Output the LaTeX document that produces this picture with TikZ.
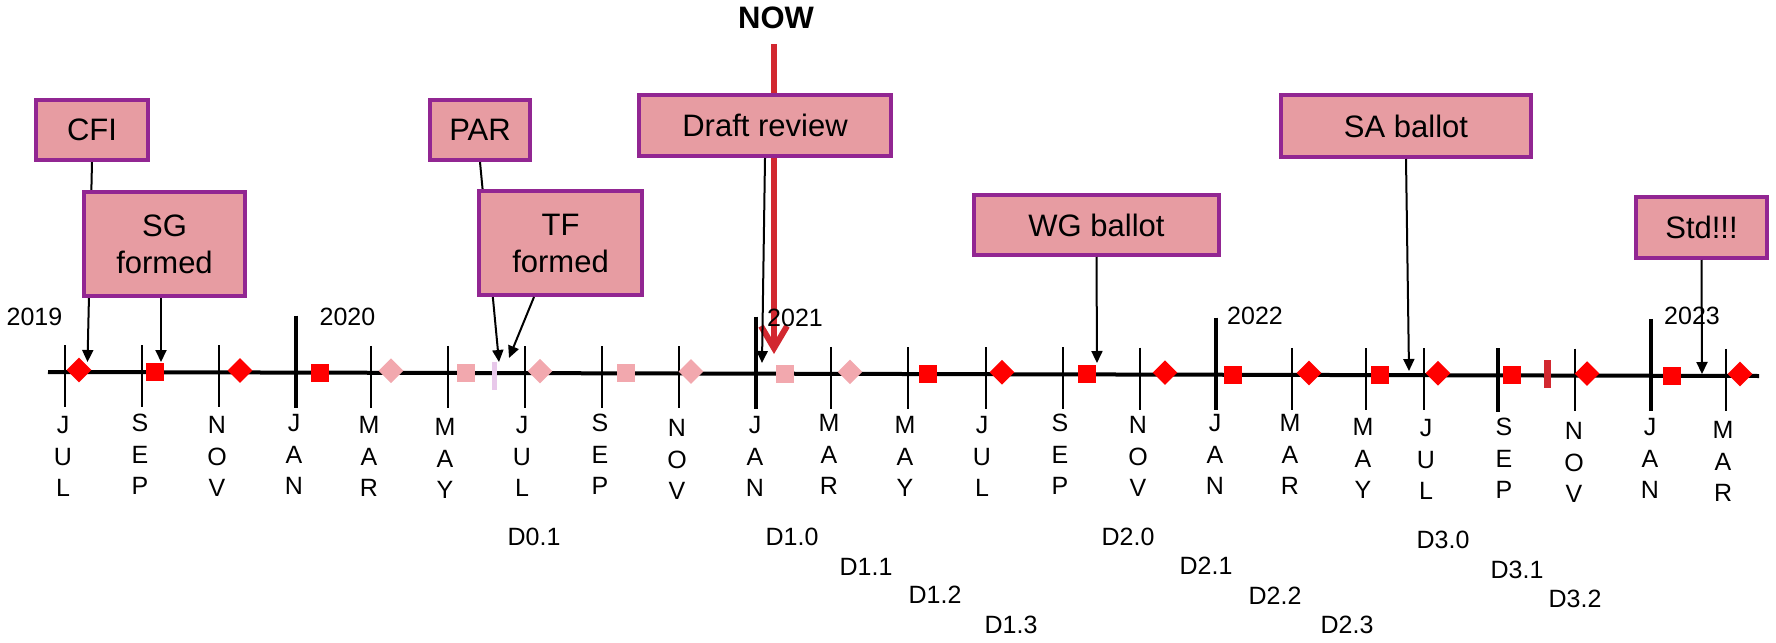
\documentclass[tikz,border=0pt]{standalone}
\usepackage{fontspec}
\setmainfont{Liberation Sans}
\usetikzlibrary{arrows.meta,shapes.geometric,calc}
\pgfdeclarelayer{bg}
\pgfsetlayers{bg,main}
\definecolor{boxfill}{RGB}{231,156,162}
\definecolor{boxline}{RGB}{146,38,146}
\definecolor{nowred}{RGB}{210,40,48}
\definecolor{mred}{RGB}{255,0,0}
\definecolor{mpink}{RGB}{242,168,174}
\definecolor{lav}{RGB}{232,200,234}
\begin{document}
\begin{tikzpicture}[x=0.5pt,y=-0.5pt,
  evbox/.style={draw=boxline,line width=2pt,fill=boxfill,inner sep=0pt,align=center,font=\fontsize{15.5}{18.5}\selectfont},
  conn/.style={draw=black,line width=1pt,-{Triangle[length=6pt,width=5.5pt]}},
  mon/.style={anchor=north,inner sep=0pt,align=center,font=\fontsize{12.5}{15.75}\selectfont},
  yr/.style={inner sep=0pt,font=\fontsize{12.5}{15}\selectfont},
  dl/.style={inner sep=0pt,font=\fontsize{12.5}{15}\selectfont},
  sqm/.style={rectangle,minimum size=9pt,inner sep=0pt},
  dmm/.style={diamond,minimum width=12.5pt,minimum height=12.5pt,inner sep=0pt},
  barm/.style={rectangle,inner sep=0pt,minimum height=14pt},
]
\useasboundingbox (0,0) rectangle (1776,642);

% event boxes
\node[evbox,minimum width=56pt,minimum height=30pt] (CFI) at (92,130) {CFI};
\node[evbox,minimum width=80.5pt,minimum height=52pt] (SG) at (164.5,244) {SG\\formed};
\node[evbox,minimum width=50pt,minimum height=30pt] (PAR) at (480,130) {PAR};
\node[evbox,minimum width=81.5pt,minimum height=52pt] (TF) at (560.5,243) {TF\\formed};
\node[evbox,minimum width=126pt,minimum height=30.5pt] (DR) at (765,125.5) {Draft review};
\node[evbox,minimum width=122.5pt,minimum height=30pt] (WG) at (1096.5,225) {WG ballot};
\node[evbox,minimum width=125pt,minimum height=31pt] (SA) at (1406,126) {SA ballot};
\node[evbox,minimum width=65.5pt,minimum height=30.5pt] (STD) at (1701.5,227.5) {Std!!!};

\node[inner sep=0pt,font=\fontsize{15.5}{18}\selectfont\bfseries] (now) at (776,18) {NOW};

% timeline
\coordinate (tlL) at (48,372);
\coordinate (tlR) at (1759,376);
\draw[line width=2pt] (tlL) -- (tlR);
\foreach \x in {65,142,219,371,448,525,602,679,831,908,986,1063,1140,1292,1366,1424,1575,1726}{
  \pgfmathsetmacro\yl{372+4*(\x-48)/1711}
  \draw[line width=1pt] (\x,\yl-27) -- (\x,\yl+35);
}
\foreach \x in {296,756,1216,1651}{
  \pgfmathsetmacro\yl{372+4*(\x-48)/1711}
  \draw[line width=2.2pt] (\x,\yl-57) -- (\x,\yl+35);
}
\foreach \x in {1498}{
  \pgfmathsetmacro\yl{372+4*(\x-48)/1711}
  \draw[line width=1.8pt] (\x,\yl-27) -- (\x,\yl+37);
}

% markers
\foreach \x/\c [count=\i] in {79/mred,240/mred,391/mpink,540/mpink,691/mpink,850/mpink,1002/mred,1165/mred,1309/mred,1438/mred,1587/mred,1740/mred}{
  \pgfmathsetmacro\yl{372+4*(\x-48)/1711-2}
  \node[dmm,fill=\c] (dm\i) at (\x,\yl) {};
}
\foreach \x/\c [count=\i] in {155/mred,320/mred,466/mpink,626/mpink,785/mpink,928/mred,1087/mred,1233/mred,1380/mred,1512/mred,1672/mred}{
  \pgfmathsetmacro\yl{372+4*(\x-48)/1711}
  \node[sqm,fill=\c] (sq\i) at (\x,\yl) {};
}
\node[barm,fill=lav,minimum width=2.5pt] (bar1) at (494,376) {};
\node[barm,fill=nowred,minimum width=3.5pt] (bar2) at (1547,374) {};

% years
\node[yr] (y19) at (34.5,317) {2019};
\node[yr] (y20) at (347.5,317) {2020};
\node[yr] (y21) at (795,318) {2021};
\node[yr] (y22) at (1255,316) {2022};
\node[yr] (y23) at (1692,316) {2023};

% months
\foreach \x/\t/\yc [count=\i] in {
  63/J\\U\\L/425, 140/S\\E\\P/423, 217/N\\O\\V/425, 294/J\\A\\N/423,
  369/M\\A\\R/425, 445/M\\A\\Y/427, 522/J\\U\\L/425, 600/S\\E\\P/423,
  677/N\\O\\V/428, 755/J\\A\\N/425, 829/M\\A\\R/423, 905/M\\A\\Y/425,
  982/J\\U\\L/425, 1060/S\\E\\P/423, 1138/N\\O\\V/425, 1215/J\\A\\N/423,
  1290/M\\A\\R/423, 1363/M\\A\\Y/427, 1426/J\\U\\L/428, 1504/S\\E\\P/427,
  1574/N\\O\\V/431, 1650/J\\A\\N/427, 1723/M\\A\\R/430}{
  \node[mon] (mon\i) at (\x,\yc-9) {\t};
}

% draft labels
\node[dl] (d01) at (534,537) {D0.1};
\node[dl] (d10) at (792,537) {D1.0};
\node[dl] (d11) at (866,567) {D1.1};
\node[dl] (d12) at (935,595) {D1.2};
\node[dl] (d13) at (1011,625) {D1.3};
\node[dl] (d20) at (1128,537) {D2.0};
\node[dl] (d21) at (1206,566) {D2.1};
\node[dl] (d22) at (1275,596) {D2.2};
\node[dl] (d23) at (1347,625) {D2.3};
\node[dl] (d30) at (1443,540) {D3.0};
\node[dl] (d31) at (1517,570) {D3.1};
\node[dl] (d32) at (1575,599) {D3.2};

% connector end points
\coordinate (cfiT) at (87.5,362);
\coordinate (sgT) at (161,362);
\coordinate (parT) at (499,362);
\coordinate (tfT) at (509,358);
\coordinate (drT) at (762,363);
\coordinate (wgT) at (1097,363);
\coordinate (saT) at (1409,371);
\coordinate (stdT) at (1702,374);
\coordinate (nowS) at (774,44);
\coordinate (nowT) at (774,354);

\begin{pgfonlayer}{bg}
\draw[conn] (CFI.south) -- (cfiT);
\draw[conn] (PAR.south) -- (parT);
\draw[nowred,line width=3pt,-{Straight Barb[length=11pt,width=13pt]}] (nowS) -- (nowT);
\end{pgfonlayer}
\draw[conn] ([xshift=-1.75pt]SG.south) -- (sgT);
\draw[conn] ([xshift=-13.25pt]TF.south) -- (tfT);
\draw[conn] (DR.south) -- (drT);
\draw[conn] (WG.south) -- (wgT);
\draw[conn] (SA.south) -- (saT);
\draw[conn] (STD.south) -- (stdT);
\end{tikzpicture}
\end{document}
